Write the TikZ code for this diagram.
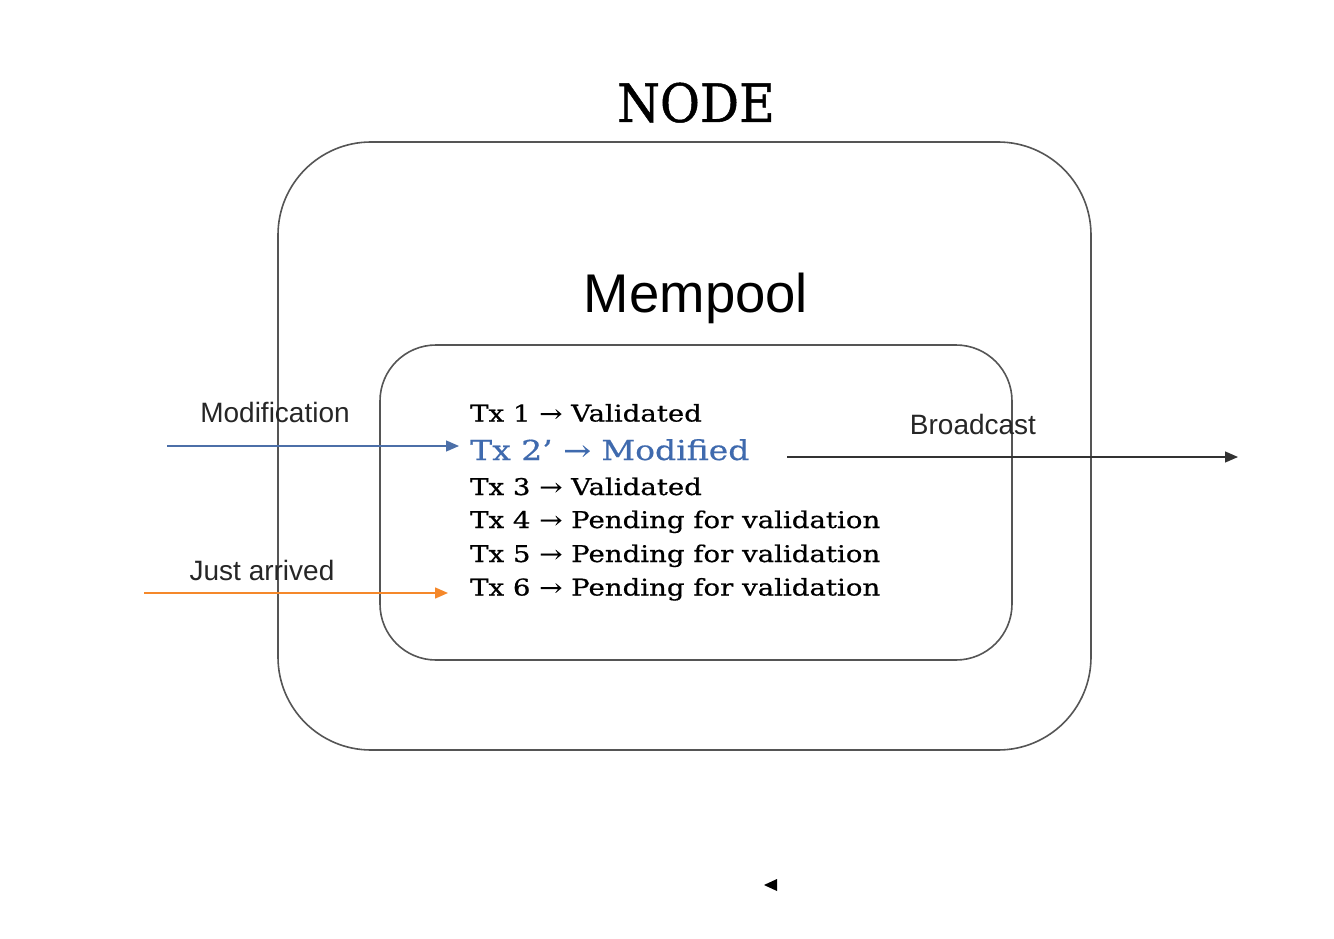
\documentclass[tikz,border=0pt]{standalone}
\usepackage{fontspec}
\setmainfont{Liberation Sans}
\newfontfamily\typefont[FakeStretch=1.2,FakeBold=0.6]{DejaVu Serif}
\newfontfamily\titlefont[FakeStretch=0.92,FakeBold=0.9]{DejaVu Serif}
\usetikzlibrary{arrows.meta}
\definecolor{modblue}{HTML}{3F6AAE}
\definecolor{lineblue}{HTML}{4C6FA8}
\definecolor{arrorange}{HTML}{F5882A}
\definecolor{boxgray}{HTML}{555555}
\tikzset{
  box/.style={draw=boxgray, line width=1.6pt},
  lbl/.style={font=\fontsize{28}{30}\selectfont, text=black!85, inner sep=0pt},
  txline/.style={anchor=base west, inner sep=0pt, font=\typefont\fontsize{23}{26}\selectfont, text=black},
  headtip/.style={{Triangle[length=13pt,width=11pt]}-},
}
\begin{document}
\begin{tikzpicture}[x=1pt,y=-1pt]
\useasboundingbox[fill=white] (0,0) rectangle (1334,939);
% boxes
\draw[box, rounded corners=93pt] (278,142) rectangle (1091,750);
\draw[box, rounded corners=56pt] (380,345) rectangle (1012,660);
% titles
\node[inner sep=0pt, font=\titlefont\fontsize{53}{60}\selectfont, anchor=base] (title) at (696,122) {NODE};
\node[inner sep=0pt, font=\fontsize{54.5}{60}\selectfont, anchor=base] (mempool) at (696,312) {Mempool};
% transaction list
\node[txline] (tx1) at (470,421.5) {Tx 1 → Validated};
\node[txline, text=modblue, font=\typefont\fontsize{27.5}{30}\selectfont] (tx2) at (470,460) {Tx 2’ → Modified};
\node[txline] (tx3) at (470,495) {Tx 3 → Validated};
\node[txline] (tx4) at (470,528) {Tx 4 → Pending for validation};
\node[txline] (tx5) at (470,562) {Tx 5 → Pending for validation};
\node[txline] (tx6) at (470,595.5) {Tx 6 → Pending for validation};
% labels
\node[lbl] (modlbl) at (275,412) {Modification};
\node[lbl] (arrlbl) at (262,570) {Just arrived};
\node[lbl] (bclbl) at (973,424) {Broadcast};
% arrows
\coordinate (modstart) at (167,446);
\coordinate (modend) at (459,446);
\coordinate (arrstart) at (144,593);
\coordinate (arrend) at (448,593);
\coordinate (bcstart) at (787,457);
\coordinate (bcend) at (1238,457);
\draw[lineblue, line width=1.3pt, headtip] (modend) -- (modstart);
\draw[arrorange, line width=1.5pt, headtip] (arrend) -- (arrstart);
\draw[black!80, line width=1.3pt, headtip] (bcend) -- (bcstart);
% stray arrowhead
\fill[black] (764,885) -- (777,879) -- (777,891) -- cycle;
\end{tikzpicture}
\end{document}
